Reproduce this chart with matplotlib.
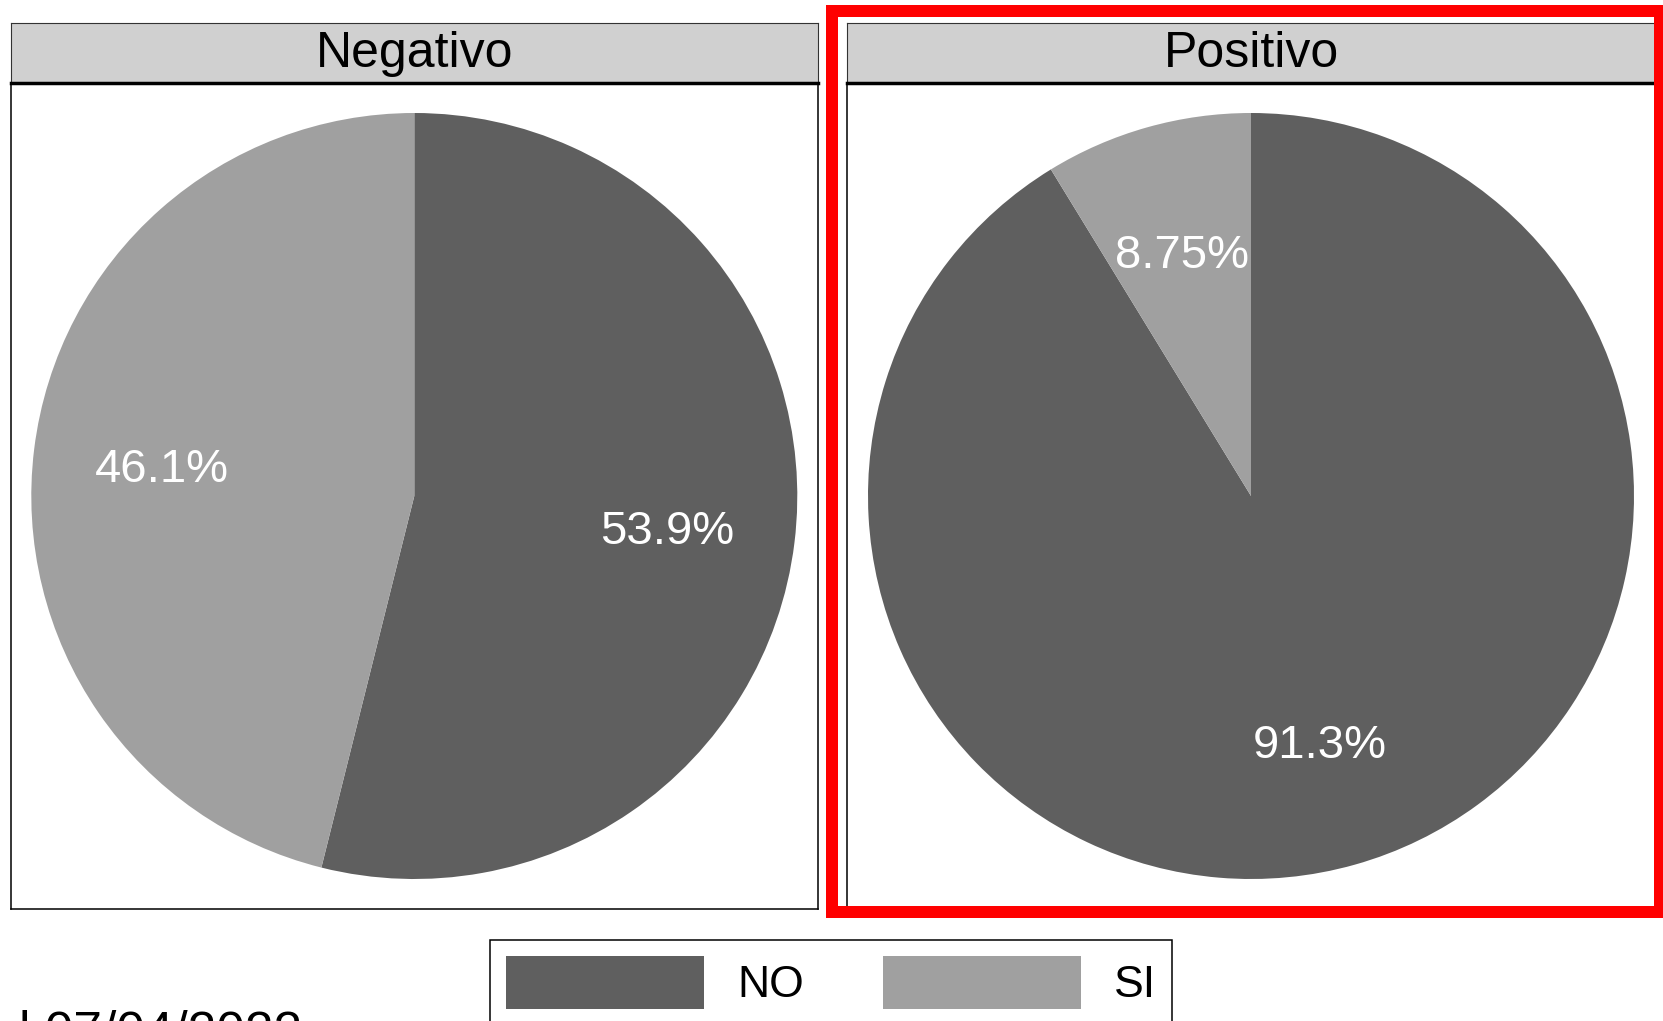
import matplotlib
matplotlib.use('Agg')
import matplotlib.pyplot as plt
from matplotlib.patches import Rectangle, Patch

plt.rcParams['font.family'] = ['Liberation Sans', 'DejaVu Sans']

# ---- data ----
panels = ['Negativo', 'Positivo']
categories = ['NO', 'SI']
neg_values = [53.9, 46.1]
pos_values = [91.25, 8.75]
neg_labels = ['53.9%', '46.1%']
pos_labels = ['91.3%', '8.75%']
caption = 'l 07/04/2022'

colors = ['#5f5f5f', '#a0a0a0']
W, H = 1663, 1021
fig = plt.figure(figsize=(W / 100, H / 100), dpi=100)


def rect(x0, y0, x1, y1):
    return [x0 / W, 1 - y1 / H, (x1 - x0) / W, (y1 - y0) / H]


panel_x = [(10.6, 818), (847, 1655)]
strip_y = (23, 83)
panel_y = (83, 909)
R = 383.0

for (x0, x1), name, vals, labs in zip(panel_x, panels,
                                      [neg_values, pos_values],
                                      [neg_labels, pos_labels]):
    ax = fig.add_axes(rect(x0, panel_y[0], x1, panel_y[1]))
    it = iter(labs)
    _, _, autotexts = ax.pie(vals, colors=colors, startangle=90,
                             counterclock=False, radius=1,
                             autopct=lambda p, it=it: next(it),
                             pctdistance=0.665,
                             wedgeprops=dict(linewidth=0), frame=True,
                             textprops=dict(color='white', fontsize=34))
    for t in autotexts:
        t.set_va('center_baseline')
    ax.set_aspect('auto')
    hw = (x1 - x0) / 2 / R
    hh = (panel_y[1] - panel_y[0]) / 2 / R
    ax.set_xlim(-hw, hw)
    ax.set_ylim(-hh, hh)
    ax.set_xticks([])
    ax.set_yticks([])
    for s in ax.spines.values():
        s.set_color('black')
        s.set_linewidth(1.1)

    sax = fig.add_axes(rect(x0, strip_y[0], x1, strip_y[1]))
    sax.set_facecolor('#d0d0d0')
    sax.set_xticks([])
    sax.set_yticks([])
    for s in sax.spines.values():
        s.set_color('#333333')
        s.set_linewidth(0.8)
    sax.spines['bottom'].set_color('black')
    sax.spines['bottom'].set_linewidth(2.5)
    sax.text(0.5, 0.26, name, transform=sax.transAxes, ha='center',
             va='baseline', fontsize=36, color='black')

# red highlight box
fig.patches.append(Rectangle((832 / W, 1 - 912 / H), (1660 - 832) / W,
                             (912 - 11) / H, transform=fig.transFigure,
                             fill=False, edgecolor='#ff0000',
                             linewidth=12 * 0.72, zorder=10))

handles = [Patch(facecolor=c, edgecolor='none', label=l)
           for c, l in zip(colors, categories)]
fs = 32
fpx = fs * 100 / 72
leg = fig.legend(handles=handles, loc='upper left',
                 bbox_to_anchor=(490 / W, 1 - 940 / H), borderaxespad=0,
                 ncol=2, fontsize=fs, handlelength=198 / fpx,
                 handleheight=1.47, borderpad=16 / fpx,
                 handletextpad=33 / fpx, columnspacing=79 / fpx,
                 fancybox=False, framealpha=1, edgecolor='black')
leg.get_frame().set_linewidth(1.1)

fig.text(19 / W, 1 - 1047 / H, caption, fontsize=37, ha='left', va='baseline')

fig.savefig('out.png', dpi=100)
